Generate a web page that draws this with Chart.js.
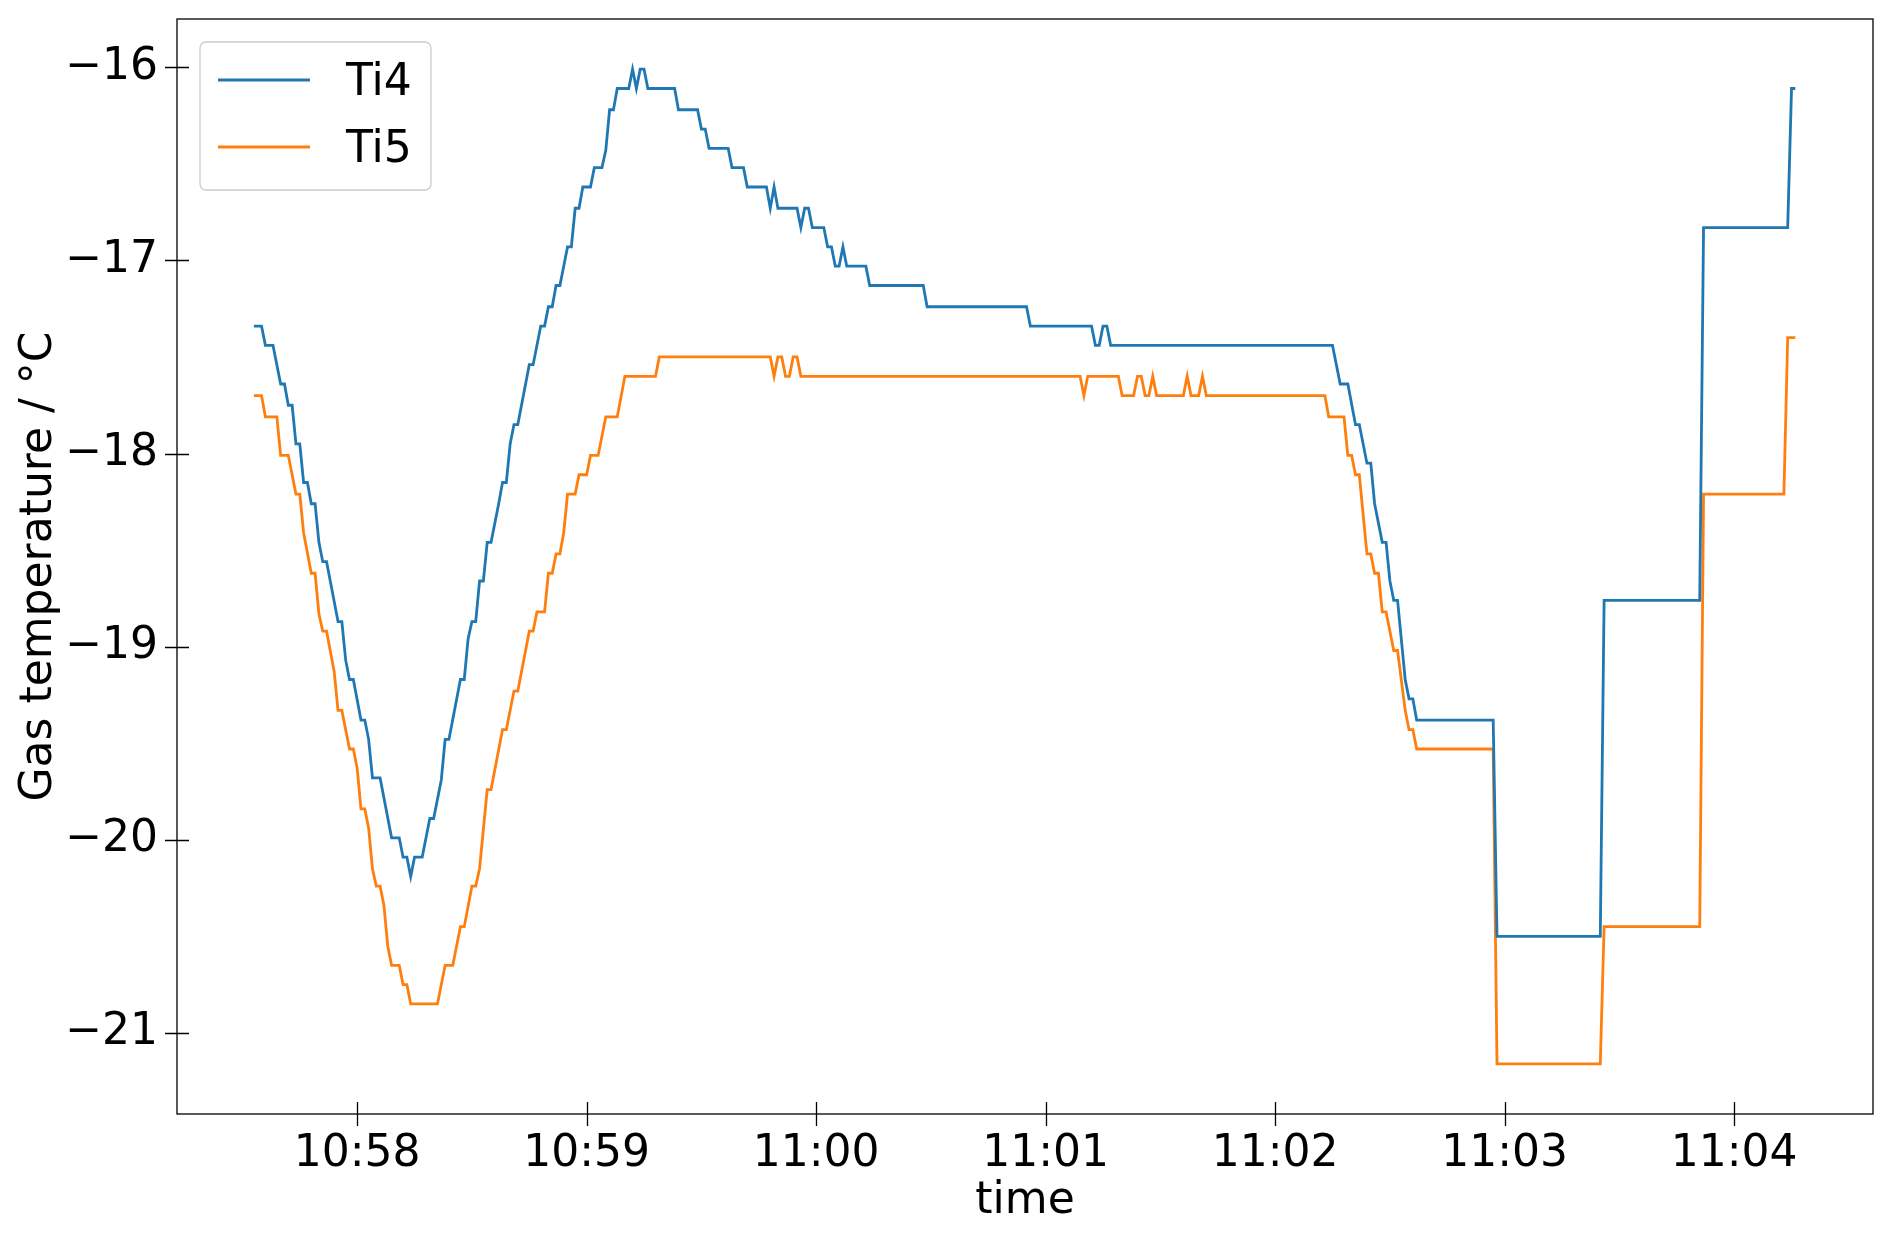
<!DOCTYPE html>
<html>
<head>
<meta charset="utf-8">
<script src="https://cdn.jsdelivr.net/npm/chart.js@4.4.0/dist/chart.umd.min.js"></script>
<style>
  html, body { margin: 0; padding: 0; background: #fff; }
</style>
</head>
<body>
<canvas id="myChart" width="1892" height="1234"></canvas>
<script>
// times are seconds after 10:57:00, values in °C (only the corners of the steps)
const tickLabels = ['10:58', '10:59', '11:00', '11:01', '11:02', '11:03', '11:04'];
const yTickValues = [-21, -20, -19, -18, -17, -16];

const ti4Sec = [33, 35, 36, 38, 40, 41, 42, 43, 44, 45, 46, 47, 48, 49, 50, 51, 52, 55, 56, 57, 58, 59,
  61, 62, 63, 64, 66, 69, 71, 72, 73, 74, 75, 77, 79, 80, 82, 83, 84, 87, 88, 89, 90, 91, 92, 93, 94, 95,
  97, 98, 99, 100, 101, 102, 105, 106, 108, 109, 110, 111, 112, 113, 115, 116, 117, 118, 119, 121, 122,
  124, 125, 126, 127, 128, 131, 132, 133, 134, 135, 136, 143, 144, 149, 150, 151, 152, 157, 158, 161,
  162, 167, 168, 169, 170, 175, 176, 177, 178, 179, 182, 183, 184, 185, 186, 187, 188, 193, 194, 208,
  209, 235, 236, 252, 253, 254, 255, 256, 257, 315, 317, 319, 321, 322, 324, 325, 326, 328, 329, 330,
  331, 332, 334, 335, 336, 337, 357, 358, 385, 386, 411, 412, 434, 435, 436];
const ti4Val = [-17.34, -17.34, -17.44, -17.44, -17.64, -17.64, -17.75, -17.75, -17.95, -17.95, -18.15,
  -18.15, -18.26, -18.26, -18.46, -18.56, -18.56, -18.87, -18.87, -19.07, -19.17, -19.17,
  -19.38, -19.38, -19.48, -19.68, -19.68, -19.99, -19.99, -20.09, -20.09, -20.19, -20.09, -20.09,
  -19.89, -19.89, -19.69, -19.48, -19.48, -19.17, -19.17, -18.96, -18.87, -18.87, -18.66, -18.66,
  -18.46, -18.46, -18.26, -18.15, -18.15, -17.95, -17.85, -17.85, -17.54, -17.54, -17.34, -17.34,
  -17.24, -17.24, -17.13, -17.13, -16.93, -16.93, -16.73, -16.73, -16.62, -16.62, -16.52, -16.52,
  -16.43, -16.22, -16.22, -16.11, -16.11, -16.01, -16.11, -16.01, -16.01, -16.11, -16.11, -16.22,
  -16.22, -16.32, -16.32, -16.42, -16.42, -16.52, -16.52, -16.62, -16.62, -16.73, -16.62, -16.73,
  -16.73, -16.83, -16.73, -16.73, -16.83, -16.83, -16.93, -16.93, -17.03, -17.03, -16.93, -17.03,
  -17.03, -17.13, -17.13, -17.24, -17.24, -17.34, -17.34, -17.44, -17.44, -17.34, -17.34, -17.44,
  -17.44, -17.64, -17.64, -17.85, -17.85, -18.05, -18.05, -18.26, -18.46, -18.46, -18.66, -18.76,
  -18.76, -19.17, -19.27, -19.27, -19.38, -19.38, -20.50, -20.50, -18.76, -18.76, -16.83, -16.83,
  -16.11, -16.11];

const ti5Sec = [33, 35, 36, 39, 40, 42, 44, 45, 46, 48, 49, 50, 51, 52, 54, 55, 56, 58, 59, 60, 61, 62,
  63, 64, 65, 66, 67, 68, 69, 71, 72, 73, 74, 81, 83, 85, 87, 88, 90, 91, 92, 94, 95, 98, 99, 101, 102,
  105, 106, 107, 109, 110, 111, 112, 113, 114, 115, 117, 118, 120, 121, 123, 125, 128, 130, 138, 139,
  168, 169, 170, 171, 172, 173, 174, 175, 176, 249, 250, 251, 259, 260, 263, 264, 265, 266, 267, 268,
  269, 276, 277, 278, 280, 281, 282, 313, 314, 318, 319, 320, 321, 322, 324, 325, 326, 327, 328, 329,
  331, 332, 334, 335, 336, 337, 357, 358, 385, 386, 411, 412, 433, 434, 436];
const ti5Val = [-17.70, -17.70, -17.81, -17.81, -18.01, -18.01, -18.21, -18.21, -18.41, -18.62, -18.62,
  -18.83, -18.92, -18.92, -19.13, -19.33, -19.33, -19.53, -19.53, -19.63, -19.84, -19.84,
  -19.94, -20.15, -20.24, -20.24, -20.34, -20.55, -20.65, -20.65, -20.75, -20.75, -20.85, -20.85,
  -20.65, -20.65, -20.45, -20.45, -20.24, -20.24, -20.15, -19.74, -19.74, -19.43, -19.43, -19.23,
  -19.23, -18.92, -18.92, -18.82, -18.82, -18.62, -18.62, -18.52, -18.52, -18.41, -18.21, -18.21,
  -18.11, -18.11, -18.01, -18.01, -17.81, -17.81, -17.60, -17.60, -17.50,
  -17.50, -17.60, -17.50, -17.50, -17.60, -17.60, -17.50, -17.50, -17.60, -17.60, -17.70, -17.60,
  -17.60, -17.70, -17.70, -17.60, -17.60, -17.70, -17.70, -17.60, -17.70, -17.70, -17.60, -17.70,
  -17.70, -17.60, -17.70, -17.70, -17.81, -17.81, -18.01, -18.01, -18.11, -18.11, -18.52, -18.52,
  -18.62, -18.62, -18.82, -18.82, -19.02, -19.02, -19.33, -19.43, -19.43, -19.53, -19.53, -21.16,
  -21.16, -20.45, -20.45, -18.21, -18.21, -17.40, -17.40];

const FONT = "'DejaVu Sans', sans-serif";
const clockToSec = s => {
  const [h, m] = s.split(':').map(Number);
  return (h * 60 + m) * 60 - (10 * 60 + 57) * 60;
};
const toPoints = (xs, ys) => xs.map((x, i) => ({ x: x, y: ys[i] }));

// matplotlib-like frame, in-out ticks and boxed legend
const framePlugin = {
  id: 'frame',
  afterDraw(chart) {
    const { ctx, chartArea: a, scales: { x, y } } = chart;
    ctx.save();
    ctx.strokeStyle = '#000';
    ctx.lineWidth = 1.3;
    ctx.strokeRect(a.left, a.top, a.right - a.left, a.bottom - a.top);
    ctx.beginPath();
    x.ticks.forEach(t => {
      const px = Math.round(x.getPixelForValue(t.value)) + 0.5;
      ctx.moveTo(px, a.bottom - 12);
      ctx.lineTo(px, a.bottom + 12);
    });
    y.ticks.forEach(t => {
      const py = Math.round(y.getPixelForValue(t.value)) + 0.5;
      ctx.moveTo(a.left - 12, py);
      ctx.lineTo(a.left + 12, py);
    });
    ctx.stroke();

    // legend
    const bx = a.left + 23, by = a.top + 23, bw = 231, bh = 148;
    ctx.fillStyle = 'rgba(255,255,255,0.8)';
    ctx.strokeStyle = '#cccccc';
    ctx.lineWidth = 1.3;
    ctx.beginPath();
    ctx.roundRect(bx, by, bw, bh, 6);
    ctx.fill();
    ctx.stroke();
    ctx.font = '44px ' + FONT;
    ctx.textBaseline = 'middle';
    ctx.textAlign = 'left';
    chart.data.datasets.forEach((ds, i) => {
      const ly = by + 38 + i * 67;
      ctx.strokeStyle = ds.borderColor;
      ctx.lineWidth = ds.borderWidth;
      ctx.beginPath();
      ctx.moveTo(bx + 18, ly);
      ctx.lineTo(bx + 110, ly);
      ctx.stroke();
      ctx.fillStyle = '#000';
      ctx.fillText(ds.label, bx + 146, ly + 4);
    });
    ctx.restore();
  }
};

Chart.defaults.font.family = FONT;
Chart.defaults.color = '#000';

const ctx = document.getElementById('myChart').getContext('2d');
window.myChart = new Chart(ctx, {
  type: 'line',
  data: {
    datasets: [{
      label: 'Ti4',
      data: toPoints(ti4Sec, ti4Val),
      borderColor: '#1f77b4',
      borderWidth: 2.8,
      pointRadius: 0,
      tension: 0
    }, {
      label: 'Ti5',
      data: toPoints(ti5Sec, ti5Val),
      borderColor: '#ff7f0e',
      borderWidth: 2.8,
      pointRadius: 0,
      tension: 0
    }]
  },
  options: {
    responsive: false,
    animation: false,
    devicePixelRatio: 1,
    layout: { padding: { top: 19, right: 19, left: 0, bottom: 0 } },
    plugins: {
      legend: { display: false },
      tooltip: { enabled: false }
    },
    scales: {
      x: {
        type: 'linear',
        min: 12.9,
        max: 456.3,
        grid: { display: false, drawTicks: false },
        border: { display: false },
        afterBuildTicks: axis => { axis.ticks = tickLabels.map(l => ({ value: clockToSec(l) })); },
        afterFit: axis => { axis.height = 120; axis.paddingLeft = 0; axis.paddingRight = 0; },
        ticks: {
          autoSkip: false,
          maxRotation: 0,
          padding: 14,
          font: { size: 44 },
          callback: (v, i) => tickLabels[i]
        },
        title: { display: true, text: 'time', font: { size: 44 }, padding: { top: 0, bottom: 6 } }
      },
      y: {
        min: -21.42,
        max: -15.75,
        grid: { display: false, drawTicks: false },
        border: { display: false },
        afterBuildTicks: axis => { axis.ticks = yTickValues.map(v => ({ value: v })); },
        afterFit: axis => { axis.width = 177; axis.paddingTop = 0; axis.paddingBottom = 0; },
        ticks: {
          padding: 19,
          font: { size: 44 },
          callback: v => (v < 0 ? '\u2212' : '') + Math.abs(v)
        },
        title: { display: true, text: 'Gas temperature / °C', font: { size: 44 }, padding: { top: 13, bottom: 0 } }
      }
    }
  },
  plugins: [framePlugin]
});
</script>
</body>
</html>
